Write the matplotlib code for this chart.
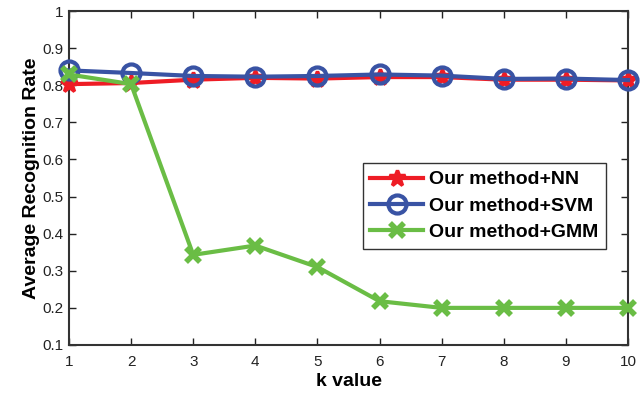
import matplotlib
matplotlib.use('Agg')
import matplotlib.pyplot as plt

k_values = [1, 2, 3, 4, 5, 6, 7, 8, 9, 10]
nn_rate = [0.803, 0.806, 0.815, 0.820, 0.818, 0.822, 0.822, 0.815, 0.815, 0.813]
svm_rate = [0.840, 0.833, 0.825, 0.823, 0.825, 0.829, 0.826, 0.817, 0.818, 0.814]
gmm_rate = [0.829, 0.803, 0.343, 0.368, 0.310, 0.218, 0.200, 0.200, 0.200, 0.200]

plt.rcParams['font.family'] = 'Liberation Sans'

fig = plt.figure(figsize=(6.43, 3.94), dpi=100)
ax = fig.add_axes([0.1073, 0.1244, 0.8694, 0.8476])

ax.plot(k_values, nn_rate, color='#ee1c25', lw=3, marker='*', ms=12,
        mew=2.5, label='Our method+NN', clip_on=False, zorder=3)
ax.plot(k_values, svm_rate, color='#3953a4', lw=3, marker='o', ms=13,
        mfc='none', mew=3, label='Our method+SVM', clip_on=False, zorder=4)
ax.plot(k_values, gmm_rate, color='#6abd45', lw=3, marker='x', ms=10,
        mew=4, label='Our method+GMM', clip_on=False, zorder=5)

ax.set_xlim(1, 10)
ax.set_ylim(0.1, 1)
ax.set_xticks(k_values)
ax.set_yticks([0.1, 0.2, 0.3, 0.4, 0.5, 0.6, 0.7, 0.8, 0.9, 1])
ax.set_yticklabels(['0.1', '0.2', '0.3', '0.4', '0.5', '0.6', '0.7', '0.8', '0.9', '1'])
ax.tick_params(direction='in', top=True, right=True, length=5, width=1,
               labelsize=11, colors='#222222')
ax.tick_params(axis='x', pad=7)
ax.tick_params(axis='y', pad=4)
for s in ax.spines.values():
    s.set_linewidth(1.5)
    s.set_color('#333333')

ax.set_xlabel('k value', fontsize=14, fontweight='bold', labelpad=3)
ax.set_ylabel('Average Recognition Rate', fontsize=14, fontweight='bold', labelpad=2)

leg = ax.legend(loc='upper right', bbox_to_anchor=(0.96, 0.545),
                prop={'weight': 'bold', 'size': 14}, fancybox=False,
                edgecolor='black', handlelength=2.7, borderpad=0.4,
                labelspacing=0.45, handletextpad=0.3, borderaxespad=0,
                numpoints=1)
leg.get_frame().set_linewidth(1)

fig.savefig('out.png', dpi=100)
